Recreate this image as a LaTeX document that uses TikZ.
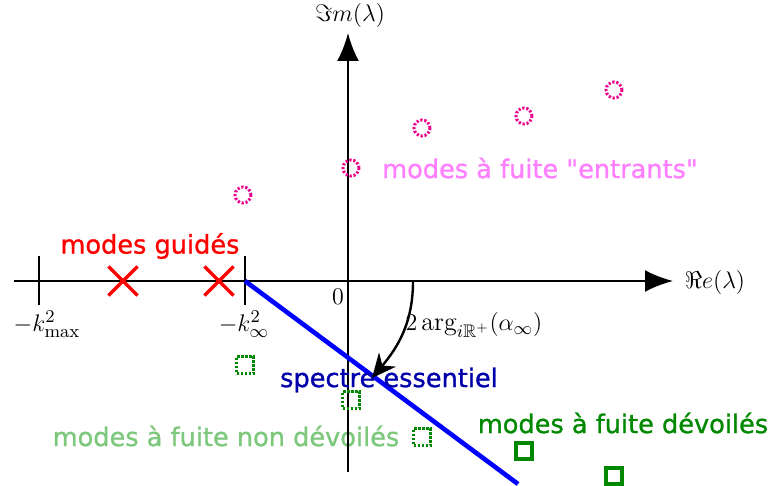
\documentclass[tikz,border=0pt]{standalone}
\usepackage{amsmath, amssymb}
\usepackage{fontspec}
\newfontfamily\etiqfont{DejaVu Sans}[FakeBold=1]
\usetikzlibrary{arrows.meta, shapes.misc}

\definecolor{vertfonce}{RGB}{0,136,0}
\definecolor{vertclair}{RGB}{125,200,125}
\definecolor{roseclair}{RGB}{255,128,255}
\definecolor{bleufonce}{RGB}{0,0,170}

\begin{document}
\begin{tikzpicture}[x=0.5pt, y=-0.5pt,
  axe/.style={line width=1.2pt, -{Latex[length=14pt, width=11pt]}},
  tick/.style={line width=1.2pt},
  etiq/.style={font=\etiqfont\fontsize{12.8}{15}\selectfont, inner sep=0pt},
  maths/.style={font=\fontsize{13}{15}\selectfont, inner sep=1pt},
  croix/.style={draw=red, line width=1.6pt, cross out, minimum size=13pt, inner sep=0pt},
  entrant/.style={draw=magenta, circle, line width=1.5pt, dash pattern=on 1.1pt off 0.9pt, minimum size=8pt, inner sep=0pt},
  cache/.style={draw=vertfonce, rectangle, line width=1.5pt, dash pattern=on 1.1pt off 0.9pt, minimum size=8.5pt, inner sep=0pt},
  devoile/.style={draw=vertfonce, rectangle, line width=1.6pt, minimum size=8pt, inner sep=0pt},
]
  \useasboundingbox (0,0) rectangle (771,486);

  % textes
  \node[etiq, text=red] (guides) at (150,246) {modes guidés};
  \node[etiq, text=roseclair] (entrants) at (540,168) {modes à fuite "entrants"};
  \node[etiq, text=vertclair] (nondev) at (226,436) {modes à fuite non dévoilés};
  \node[etiq, text=vertfonce] (dev) at (623,423) {modes à fuite dévoilés};

  % axes
  \coordinate (xdeb) at (14,281);
  \coordinate (xfin) at (673,281);
  \coordinate (ydeb) at (348,472);
  \coordinate (yfin) at (348,33);
  \draw[axe] (xdeb) -- (xfin);
  \draw[axe] (ydeb) -- (yfin);
  \node[maths] (re) at (715,283) {$\Re e(\lambda)$};
  \node[maths] (im) at (350,16) {$\Im m(\lambda)$};
  \node[maths] (zero) at (338,297) {$0$};

  % graduations
  \draw[tick] (39,256) -- (39,305);
  \draw[tick] (245,256) -- (245,305);
  \node[maths] (kmax) at (47,324) {$-k_{\max}^2$};
  \node[maths] (kinf) at (244,324) {$-k_{\infty}^2$};

  % modes guides
  \node[croix] (g1) at (123,281) {};
  \node[croix] (g2) at (219,281) {};

  % modes a fuite entrants
  \foreach \px/\py [count=\i] in {243/195, 351/168, 422/128, 524/116, 614/90}
    \node[entrant] (e\i) at (\px,\py) {};

  % modes a fuite non devoiles
  \foreach \px/\py [count=\i] in {245/365, 351/400, 422/437}
    \node[cache] (c\i) at (\px,\py) {};

  % modes a fuite devoiles
  \node[devoile] (d1) at (524,451) {};
  \node[devoile] (d2) at (614,476) {};

  % spectre essentiel
  \coordinate (sdeb) at (245,281);
  \coordinate (sfin) at (518,484);
  \draw[blue, line width=2.3pt] (sdeb) -- (sfin);
  \node[etiq, text=bleufonce] (spectre) at (389,380) {spectre essentiel};

  % angle
  \coordinate (adeb) at (413,281);
  \coordinate (afin) at (372,378);
  \draw[line width=1.2pt, -{Stealth[length=12pt, width=11pt]}] (adeb) to[out=-90, in=50] (afin);
  \node[maths] (angle) at (474,325) {$2\arg_{i\mathbb{R}^+}(\alpha_\infty)$};
\end{tikzpicture}
\end{document}
